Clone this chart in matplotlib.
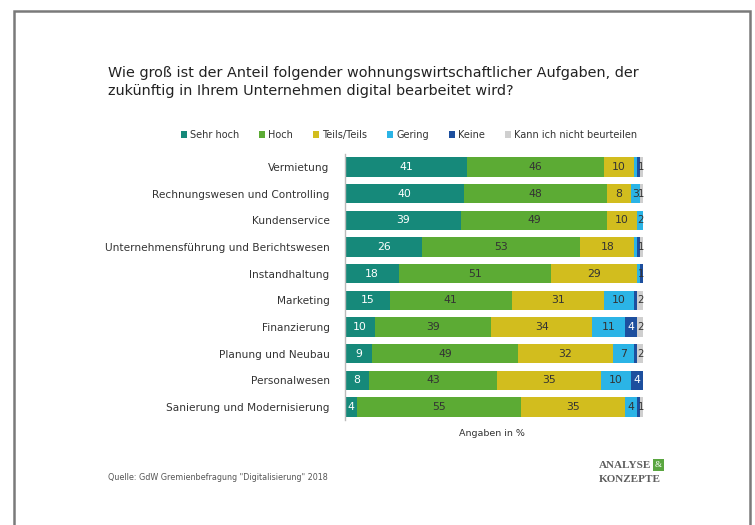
import matplotlib.pyplot as plt
from matplotlib.patches import Rectangle, Patch
import numpy as np

categories = ['Vermietung', 'Rechnungswesen und Controlling', 'Kundenservice',
              'Unternehmensführung und Berichtswesen', 'Instandhaltung', 'Marketing',
              'Finanzierung', 'Planung und Neubau', 'Personalwesen',
              'Sanierung und Modernisierung']
sehr_hoch = [41, 40, 39, 26, 18, 15, 10, 9, 8, 4]
hoch = [46, 48, 49, 53, 51, 41, 39, 49, 43, 55]
teils = [10, 8, 10, 18, 29, 31, 34, 32, 35, 35]
gering = [1, 3, 2, 1, 1, 10, 11, 7, 10, 4]
keine = [1, 0, 0, 1, 1, 1, 4, 1, 4, 1]
kann_nicht = [1, 1, 0, 1, 0, 2, 2, 2, 0, 1]

series_names = ['Sehr hoch', 'Hoch', 'Teils/Teils', 'Gering', 'Keine', 'Kann ich nicht beurteilen']
series = [sehr_hoch, hoch, teils, gering, keine, kann_nicht]
colors = ['#16897a', '#5cab34', '#d2bd1e', '#2bb4e6', '#1d4f9e', '#cfcfcf']
text_colors = ['white', '#333333', '#333333', '#333333', 'white', '#333333']

plt.rcParams['font.family'] = ['DejaVu Sans']

fig = plt.figure(figsize=(7.55, 5.25), dpi=100)
fig.patch.set_facecolor('white')

# slide frame
fig.add_artist(Rectangle((14/755, -0.02), (750-14)/755, 1.02 - 11/525,
                         transform=fig.transFigure, fill=False,
                         edgecolor='#7a7a7a', linewidth=1.8))

ax = fig.add_axes([345/755, 1 - 420.3/525, 298/755, 266.6/525])
y = np.arange(len(categories))
data = np.array(series, dtype=float)
# last non-zero segment per row (its small label stays visible)
last_idx = [max(i for i in range(len(series)) if data[i, r] > 0) for r in range(len(categories))]

left = np.zeros(len(categories))
for k, (vals, name, col, tcol) in enumerate(zip(data, series_names, colors, text_colors)):
    ax.barh(y, vals, left=left, height=0.72, color=col, label=name)
    for yi, (l, v) in enumerate(zip(left, vals)):
        if v <= 0:
            continue
        if v <= 1 and k != last_idx[yi]:
            continue
        fs = 7.8 if v >= 3 else 7.2
        tc = tcol if v >= 2 else '#333333'
        ax.text(l + v / 2, yi, '%d' % v, ha='center', va='center',
                fontsize=fs, color=tc)
    left = left + vals

ax.set_xlim(0, 100)
ax.set_ylim(len(categories) - 0.5, -0.5)
ax.set_yticks(y)
ax.set_yticklabels(categories, fontsize=7.6, color='#333333')
ax.tick_params(axis='y', length=0, pad=11)
ax.set_xticks([])
for s in ['top', 'right', 'bottom']:
    ax.spines[s].set_visible(False)
ax.spines['left'].set_color('#bbbbbb')
ax.spines['left'].set_linewidth(1)

fig.text(108/755, 1 - 66/525,
         'Wie groß ist der Anteil folgender wohnungswirtschaftlicher Aufgaben, der\n'
         'zukünftig in Ihrem Unternehmen digital bearbeitet wird?',
         fontsize=10.4, color='#222222', va='top', ha='left', linespacing=1.35)

handles = [Patch(facecolor=c, edgecolor='none') for c in colors]
fig.legend(handles, series_names, loc='center', bbox_to_anchor=(409/755, 1 - 135/525),
           ncol=6, frameon=False, fontsize=7, handlelength=0.6, handleheight=0.6,
           handletextpad=0.3, columnspacing=2.1, labelcolor='#333333')

fig.text(492/755, 1 - 433/525, 'Angaben in %', fontsize=6.8, color='#333333',
         ha='center', va='center')
fig.text(108/755, 1 - 477/525, 'Quelle: GdW Gremienbefragung "Digitalisierung" 2018',
         fontsize=5.8, color='#555555', ha='left', va='center')

# logo
fig.text(599/755, 1 - 465/525, 'ANALYSE', fontsize=8, family='Liberation Serif',
         color='#5e5e5e', ha='left', va='center', weight='bold')
fig.add_artist(Rectangle((653/755, 1 - 471/525), 11/755, 12/525,
                         transform=fig.transFigure, facecolor='#5aa640', edgecolor='none'))
fig.text(658.5/755, 1 - 465/525, '&', fontsize=6.5, family='Liberation Serif',
         color='white', ha='center', va='center')
fig.text(599/755, 1 - 480/525, 'KONZEPTE', fontsize=8, family='Liberation Serif',
         color='#5e5e5e', ha='left', va='center', weight='bold')

plt.savefig('out.png', dpi=100)
